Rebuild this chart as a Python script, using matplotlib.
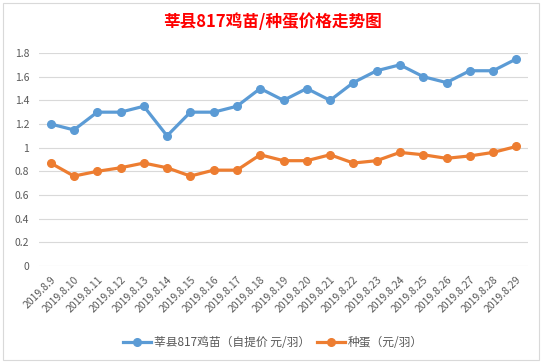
import matplotlib
matplotlib.use("Agg")
import matplotlib.pyplot as plt
from matplotlib.patches import Rectangle

plt.rcParams['font.family'] = ['Noto Sans CJK SC', 'DejaVu Sans']

dates = ["2019.8.9", "2019.8.10", "2019.8.11", "2019.8.12", "2019.8.13", "2019.8.14",
         "2019.8.15", "2019.8.16", "2019.8.17", "2019.8.18", "2019.8.19", "2019.8.20",
         "2019.8.21", "2019.8.22", "2019.8.23", "2019.8.24", "2019.8.25", "2019.8.26",
         "2019.8.27", "2019.8.28", "2019.8.29"]
chick = [1.2, 1.15, 1.3, 1.3, 1.35, 1.1, 1.3, 1.3, 1.35, 1.5, 1.4, 1.5, 1.4, 1.55,
         1.65, 1.7, 1.6, 1.55, 1.65, 1.65, 1.75]
egg = [0.87, 0.76, 0.8, 0.83, 0.87, 0.83, 0.76, 0.81, 0.81, 0.94, 0.89, 0.89, 0.94,
       0.87, 0.89, 0.96, 0.94, 0.91, 0.93, 0.96, 1.01]
yticks = [0, 0.2, 0.4, 0.6, 0.8, 1, 1.2, 1.4, 1.6, 1.8]
ytick_labels = ["0", "0.2", "0.4", "0.6", "0.8", "1", "1.2", "1.4", "1.6", "1.8"]
title = "莘县817鸡苗/种蛋价格走势图"
label_chick = "莘县817鸡苗（自提价 元/羽）"
label_egg = "种蛋（元/羽）"

fig = plt.figure(figsize=(5.46, 3.64), dpi=100)
fig.patch.set_facecolor("white")
fig.add_artist(Rectangle((3/546, 1-360/364), 536/546, 357/364, transform=fig.transFigure,
                         fill=False, edgecolor="#D9D9D9", lw=0.8))

ax = fig.add_axes([39/546, 1-266/364, 489/546, 213/364])
x = list(range(len(dates)))
ax.plot(x, chick, color="#5B9BD5", lw=2.3, marker="o", ms=5.5, label=label_chick, zorder=3)
ax.plot(x, egg, color="#ED7D31", lw=2.3, marker="o", ms=5.5, label=label_egg, zorder=3)

ax.set_xlim(-0.5, len(dates) - 0.5)
ax.set_ylim(0, 1.8)
ax.set_yticks(yticks)
ax.set_yticklabels(ytick_labels, fontsize=7.5, color="#595959")
ax.set_xticks(x)
ax.set_xticklabels(dates, fontsize=7.5, color="#595959", rotation=45, ha="right",
                   rotation_mode="anchor")
ax.grid(axis="y", color="#D9D9D9", lw=0.8)
ax.set_axisbelow(True)
for s in ax.spines.values():
    s.set_visible(False)
ax.tick_params(axis="y", length=0, pad=7)
ax.tick_params(axis="x", length=0, pad=6)

fig.text(0.5, 1-22/364, title, ha="center", va="center", color="#FF0000",
         fontsize=12, fontweight="bold")

fig.legend(loc="center", bbox_to_anchor=(0.5, 1-343/364), ncol=2, frameon=False,
           fontsize=8.5, labelcolor="#595959", handlelength=2.4, columnspacing=0.6,
           handletextpad=0.2)

fig.savefig("out.png", dpi=100)
